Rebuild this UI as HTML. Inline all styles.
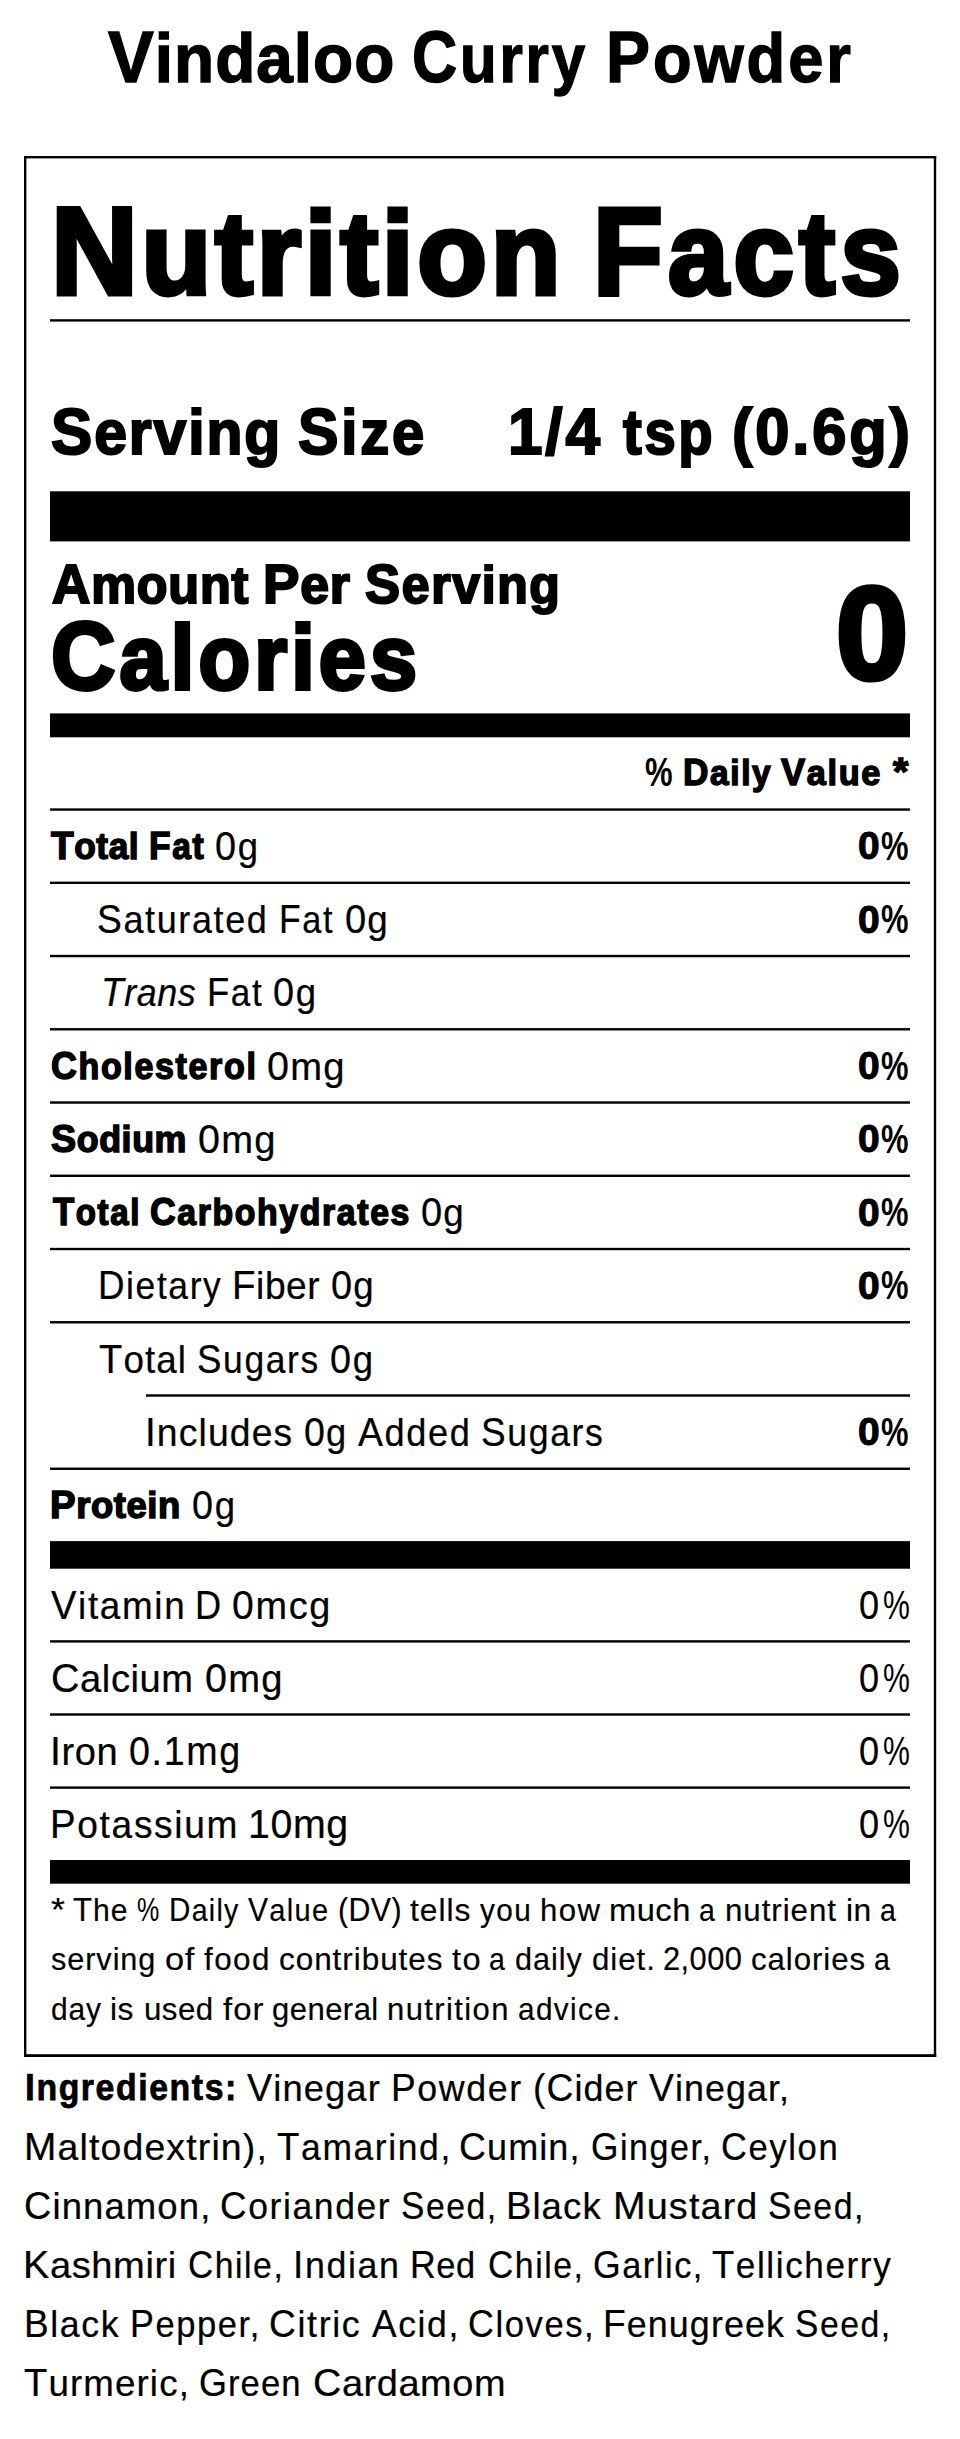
<!DOCTYPE html>
<html lang="en">
<head>
<meta charset="utf-8">
<title>Vindaloo Curry Powder - Nutrition Facts</title>
<style>
html,body{margin:0;padding:0;background:#fff}
body{width:960px;height:2439px;position:relative;overflow:hidden;color:#000;font-family:"Liberation Sans",sans-serif}
svg.rules{position:absolute;left:0;top:0;width:960px;height:2439px;display:block}
.t{position:absolute;white-space:nowrap;line-height:1;transform-origin:0 0;margin:0;padding:0;font-weight:400;font-style:normal;-webkit-text-stroke-color:#000}
.b,.k,.p{font-weight:700}
.i{font-style:italic}
h1,h2,p,.g{margin:0;padding:0;font:inherit}
.c1036::first-letter{font-size:103.6%}
.c1037::first-letter{font-size:103.7%}
.c1044::first-letter{font-size:104.4%}
.c1051::first-letter{font-size:105.1%}
.c1054::first-letter{font-size:105.4%}
.c1055::first-letter{font-size:105.5%}

</style>
</head>
<body>
<svg class="rules" viewBox="0 0 960 2439" width="960" height="2439" fill="#000">
<rect x="24" y="156" width="912.2" height="2.4"/>
<rect x="24" y="2054.2" width="912.2" height="2.8"/>
<rect x="24" y="156" width="2.4" height="1901"/>
<rect x="933.8" y="156" width="2.4" height="1901"/>
<rect x="50" y="319.2" width="860" height="2.4"/>
<rect x="50" y="491.3" width="860" height="50.1"/>
<rect x="50" y="713.4" width="860" height="23.9"/>
<rect x="50" y="808.35" width="860" height="2.4"/>
<rect x="50" y="881.6" width="860" height="2.4"/>
<rect x="50" y="954.84" width="860" height="2.4"/>
<rect x="50" y="1028.09" width="860" height="2.4"/>
<rect x="50" y="1101.33" width="860" height="2.4"/>
<rect x="50" y="1174.58" width="860" height="2.4"/>
<rect x="50" y="1247.82" width="860" height="2.4"/>
<rect x="50" y="1321.07" width="860" height="2.4"/>
<rect x="146" y="1394.31" width="764" height="2.4"/>
<rect x="50" y="1467.56" width="860" height="2.4"/>
<rect x="50" y="1541.1" width="860" height="27.6"/>
<rect x="50" y="1640.2" width="860" height="2.4"/>
<rect x="50" y="1713.3" width="860" height="2.4"/>
<rect x="50" y="1786.4" width="860" height="2.4"/>
<rect x="50" y="1860.0" width="860" height="23.7"/>
</svg>
<h1 class="g" id="title">
<span class="t b c1044" style="left:108.12px;top:20.88px;font-size:68.99px;transform:scaleX(0.9517);-webkit-text-stroke-width:1.43px;letter-spacing:1.08px">Vindaloo</span>
<span class="t b c1044" style="left:412.24px;top:20.88px;font-size:68.99px;transform:scaleX(0.8691);-webkit-text-stroke-width:1.43px;letter-spacing:3.23px">Curry</span>
<span class="t b c1044" style="left:605.85px;top:20.88px;font-size:68.99px;transform:scaleX(0.9158);-webkit-text-stroke-width:1.43px;letter-spacing:3.23px">Powder</span>
</h1>
<h2 class="g" id="nf">
<span class="t k c1054" style="left:50.88px;top:189.65px;font-size:117.49px;transform:scaleX(0.9714);-webkit-text-stroke-width:4.81px;letter-spacing:3.80px">Nutrition</span>
<span class="t k c1054" style="left:593.11px;top:189.65px;font-size:117.49px;transform:scaleX(0.9224);-webkit-text-stroke-width:4.81px;letter-spacing:5.70px">Facts</span>
</h2>
<div class="g" id="ss">
<span class="t k c1051" style="left:50.95px;top:399.32px;font-size:62.15px;transform:scaleX(0.9474);-webkit-text-stroke-width:2.14px;letter-spacing:1.99px">Serving</span>
<span class="t k c1051" style="left:297.71px;top:399.32px;font-size:62.15px;transform:scaleX(0.9311);-webkit-text-stroke-width:2.14px;letter-spacing:2.98px">Size</span>
<span class="t k" style="left:508.37px;top:398.65px;font-size:65.3px;transform:scaleX(0.9498);-webkit-text-stroke-width:2.14px;letter-spacing:2.98px">1/4</span>
<span class="t k" style="left:622.65px;top:402.32px;font-size:62.15px;transform:scaleX(0.9041);-webkit-text-stroke-width:2.14px;letter-spacing:2.98px">tsp</span>
<span class="t k" style="left:732.09px;top:400.45px;font-size:64.36px;transform:scaleX(0.9543);-webkit-text-stroke-width:2.14px;letter-spacing:2.98px">(0.6g)</span>
</div>
<div class="g" id="aps">
<span class="t k c1054" style="left:51.69px;top:557.10px;font-size:52.25px;transform:scaleX(0.9641);-webkit-text-stroke-width:2.14px;letter-spacing:0.84px">Amount</span>
<span class="t k c1054" style="left:262.61px;top:557.10px;font-size:52.25px;transform:scaleX(0.9905);-webkit-text-stroke-width:2.14px;letter-spacing:0.84px">Per</span>
<span class="t k c1054" style="left:364.58px;top:557.10px;font-size:52.25px;transform:scaleX(0.9564);-webkit-text-stroke-width:2.14px;letter-spacing:1.69px">Serving</span>
</div>
<div class="g" id="cal">
<span class="t k c1055" style="left:50.91px;top:607.67px;font-size:90.88px;transform:scaleX(0.9311);-webkit-text-stroke-width:3.92px;letter-spacing:4.42px">Calories</span>
</div>
<div class="g" id="calv">
<span class="t k" style="left:835.63px;top:567.48px;font-size:132.25px;transform:scaleX(0.9800);-webkit-text-stroke-width:5.14px">0</span>
</div>
<div class="g" id="dv">
<span class="t p" style="left:644.99px;top:751.95px;font-size:39.99px;transform:scaleX(0.7753)">%</span>
<span class="t k c1054" style="left:682.57px;top:754.30px;font-size:35.92px;transform:scaleX(0.9302);-webkit-text-stroke-width:1.47px;letter-spacing:1.74px">Daily</span>
<span class="t k c1054" style="left:781.22px;top:754.30px;font-size:35.92px;transform:scaleX(0.9559);-webkit-text-stroke-width:1.47px;letter-spacing:1.74px">Value</span>
<span class="t k" style="left:893.35px;top:753.62px;font-size:37.86px;transform:scaleX(1.0413);-webkit-text-stroke-width:1.47px">*</span>
</div>
<div class="g" id="row0">
<span class="t k c1054" style="left:51.09px;top:827.06px;font-size:36.38px;transform:scaleX(0.9686);-webkit-text-stroke-width:1.49px;letter-spacing:0.59px">Total</span>
<span class="t k c1054" style="left:149.16px;top:827.06px;font-size:36.38px;transform:scaleX(0.9214);-webkit-text-stroke-width:1.49px;letter-spacing:1.76px">Fat</span>
<span class="t r c1036" style="left:215.06px;top:826.88px;font-size:38.75px;transform:scaleX(0.9421);-webkit-text-stroke-width:0.24px;letter-spacing:1.76px">0g</span>
<span class="t k" style="left:858.00px;top:826.27px;font-size:39.0px;transform:scaleX(1.0000);-webkit-text-stroke-width:1.04px">0</span><span class="t p" style="left:881.32px;top:825.51px;font-size:40.51px;transform:scaleX(0.7640)">%</span>
</div>
<div class="g" id="row1">
<span class="t r c1036" style="left:97.25px;top:900.12px;font-size:38.75px;transform:scaleX(0.9278);-webkit-text-stroke-width:0.24px;letter-spacing:1.76px">Saturated</span>
<span class="t r c1036" style="left:278.63px;top:900.12px;font-size:38.75px;transform:scaleX(0.8861);-webkit-text-stroke-width:0.24px;letter-spacing:1.76px">Fat</span>
<span class="t r c1036" style="left:344.75px;top:900.12px;font-size:38.75px;transform:scaleX(0.9481);-webkit-text-stroke-width:0.24px;letter-spacing:1.18px">0g</span>
<span class="t k" style="left:858.00px;top:899.51px;font-size:39.0px;transform:scaleX(1.0000);-webkit-text-stroke-width:1.04px">0</span><span class="t p" style="left:881.32px;top:898.75px;font-size:40.51px;transform:scaleX(0.7640)">%</span>
</div>
<div class="g" id="row2">
<span class="t i c1036" style="left:100.89px;top:973.37px;font-size:38.75px;transform:scaleX(0.9259);-webkit-text-stroke-width:0.24px;letter-spacing:0.59px">Trans</span>
<span class="t r c1036" style="left:206.50px;top:973.37px;font-size:38.75px;transform:scaleX(0.9074);-webkit-text-stroke-width:0.24px;letter-spacing:1.76px">Fat</span>
<span class="t r c1036" style="left:273.06px;top:973.37px;font-size:38.75px;transform:scaleX(0.9421);-webkit-text-stroke-width:0.24px;letter-spacing:1.76px">0g</span>
</div>
<div class="g" id="row3">
<span class="t k c1054" style="left:50.78px;top:1046.53px;font-size:36.38px;transform:scaleX(0.9349);-webkit-text-stroke-width:1.49px;letter-spacing:1.76px">Cholesterol</span>
<span class="t r c1036" style="left:266.62px;top:1046.61px;font-size:38.75px;transform:scaleX(0.9855);-webkit-text-stroke-width:0.24px;letter-spacing:1.18px">0mg</span>
<span class="t k" style="left:858.00px;top:1046.00px;font-size:39.0px;transform:scaleX(1.0000);-webkit-text-stroke-width:1.04px">0</span><span class="t p" style="left:881.32px;top:1045.78px;font-size:40.51px;transform:scaleX(0.7640)">%</span>
</div>
<div class="g" id="row4">
<span class="t k c1054" style="left:51.00px;top:1120.02px;font-size:36.38px;transform:scaleX(0.9839);-webkit-text-stroke-width:1.49px;letter-spacing:0.59px">Sodium</span>
<span class="t r c1036" style="left:197.62px;top:1119.86px;font-size:38.75px;transform:scaleX(0.9855);-webkit-text-stroke-width:0.24px;letter-spacing:1.18px">0mg</span>
<span class="t k" style="left:858.00px;top:1119.25px;font-size:39.0px;transform:scaleX(1.0000);-webkit-text-stroke-width:1.04px">0</span><span class="t p" style="left:881.32px;top:1119.27px;font-size:40.51px;transform:scaleX(0.7640)">%</span>
</div>
<div class="g" id="row5">
<span class="t k c1054" style="left:52.64px;top:1192.92px;font-size:36.38px;transform:scaleX(0.9076);-webkit-text-stroke-width:1.49px;letter-spacing:1.76px">Total</span>
<span class="t k c1054" style="left:149.83px;top:1192.92px;font-size:36.38px;transform:scaleX(0.9287);-webkit-text-stroke-width:1.49px;letter-spacing:1.76px">Carbohydrates</span>
<span class="t r c1036" style="left:420.75px;top:1193.10px;font-size:38.75px;transform:scaleX(0.9481);-webkit-text-stroke-width:0.24px;letter-spacing:1.18px">0g</span>
<span class="t k" style="left:858.00px;top:1193.05px;font-size:39.0px;transform:scaleX(1.0000);-webkit-text-stroke-width:1.04px">0</span><span class="t p" style="left:881.32px;top:1191.73px;font-size:40.51px;transform:scaleX(0.7640)">%</span>
</div>
<div class="g" id="row6">
<span class="t r c1036" style="left:98.29px;top:1266.35px;font-size:38.75px;transform:scaleX(0.9140);-webkit-text-stroke-width:0.24px;letter-spacing:1.76px">Dietary</span>
<span class="t r c1036" style="left:232.13px;top:1266.35px;font-size:38.75px;transform:scaleX(0.9586);-webkit-text-stroke-width:0.24px;letter-spacing:0.59px">Fiber</span>
<span class="t r c1036" style="left:330.75px;top:1266.35px;font-size:38.75px;transform:scaleX(0.9452);-webkit-text-stroke-width:0.24px;letter-spacing:1.18px">0g</span>
<span class="t k" style="left:858.00px;top:1265.74px;font-size:39.0px;transform:scaleX(1.0000);-webkit-text-stroke-width:1.04px">0</span><span class="t p" style="left:881.32px;top:1264.98px;font-size:40.51px;transform:scaleX(0.7640)">%</span>
</div>
<div class="g" id="row7">
<span class="t r c1036" style="left:99.18px;top:1339.59px;font-size:38.75px;transform:scaleX(0.9487);-webkit-text-stroke-width:0.24px;letter-spacing:1.18px">Total</span>
<span class="t r c1036" style="left:196.93px;top:1339.59px;font-size:38.75px;transform:scaleX(0.9144);-webkit-text-stroke-width:0.24px;letter-spacing:1.76px">Sugars</span>
<span class="t r c1036" style="left:330.06px;top:1339.59px;font-size:38.75px;transform:scaleX(0.9421);-webkit-text-stroke-width:0.24px;letter-spacing:1.76px">0g</span>
</div>
<div class="g" id="row8">
<span class="t r c1036" style="left:145.25px;top:1412.84px;font-size:38.75px;transform:scaleX(0.9625);-webkit-text-stroke-width:0.24px;letter-spacing:1.18px">Includes</span>
<span class="t r c1036" style="left:303.67px;top:1412.84px;font-size:38.75px;transform:scaleX(0.9368);-webkit-text-stroke-width:0.24px;letter-spacing:1.18px">0g</span>
<span class="t r c1036" style="left:357.57px;top:1412.84px;font-size:38.75px;transform:scaleX(0.9327);-webkit-text-stroke-width:0.24px;letter-spacing:1.76px">Added</span>
<span class="t r c1036" style="left:480.51px;top:1412.84px;font-size:38.75px;transform:scaleX(0.9198);-webkit-text-stroke-width:0.24px;letter-spacing:1.76px">Sugars</span>
<span class="t k" style="left:858.00px;top:1412.23px;font-size:39.0px;transform:scaleX(1.0000);-webkit-text-stroke-width:1.04px">0</span><span class="t p" style="left:881.32px;top:1412.23px;font-size:40.51px;transform:scaleX(0.7640)">%</span>
</div>
<div class="g" id="row9">
<span class="t k c1054" style="left:50.09px;top:1486.47px;font-size:36.38px;transform:scaleX(1.0014);-webkit-text-stroke-width:1.49px;letter-spacing:0.59px">Protein</span>
<span class="t r c1036" style="left:192.06px;top:1486.08px;font-size:38.75px;transform:scaleX(0.9421);-webkit-text-stroke-width:0.24px;letter-spacing:1.76px">0g</span>
</div>
<div class="g" id="vit0">
<span class="t r c1036" style="left:51.42px;top:1586.08px;font-size:38.75px;transform:scaleX(0.9500);-webkit-text-stroke-width:0.24px;letter-spacing:1.76px">Vitamin</span>
<span class="t r" style="left:195.42px;top:1585.88px;font-size:40.16px;transform:scaleX(0.9000);-webkit-text-stroke-width:0.24px">D</span>
<span class="t r c1036" style="left:232.02px;top:1586.08px;font-size:38.75px;transform:scaleX(0.9762);-webkit-text-stroke-width:0.24px;letter-spacing:1.76px">0mcg</span>
<span class="t r" style="left:859.10px;top:1585.88px;font-size:40.16px;transform:scaleX(0.9000);-webkit-text-stroke-width:0.24px">0</span><span class="t r" style="left:882.64px;top:1584.71px;font-size:40.51px;transform:scaleX(0.7465)">%</span>
</div>
<div class="g" id="vit1">
<span class="t r c1036" style="left:50.83px;top:1659.11px;font-size:38.75px;transform:scaleX(0.9835);-webkit-text-stroke-width:0.24px;letter-spacing:0.59px">Calcium</span>
<span class="t r c1036" style="left:204.62px;top:1659.11px;font-size:38.75px;transform:scaleX(0.9855);-webkit-text-stroke-width:0.24px;letter-spacing:1.18px">0mg</span>
<span class="t r" style="left:859.10px;top:1658.94px;font-size:40.16px;transform:scaleX(0.9000);-webkit-text-stroke-width:0.24px">0</span><span class="t r" style="left:882.64px;top:1657.74px;font-size:40.51px;transform:scaleX(0.7465)">%</span>
</div>
<div class="g" id="vit2">
<span class="t r c1036" style="left:49.77px;top:1732.14px;font-size:38.75px;transform:scaleX(0.9805);-webkit-text-stroke-width:0.24px;letter-spacing:0.59px">Iron</span>
<span class="t r" style="left:129.05px;top:1732.36px;font-size:39.74px;transform:scaleX(0.9471);-webkit-text-stroke-width:0.24px;letter-spacing:1.76px">0.1mg</span>
<span class="t r" style="left:859.10px;top:1732.00px;font-size:40.16px;transform:scaleX(0.9000);-webkit-text-stroke-width:0.24px">0</span><span class="t r" style="left:882.64px;top:1730.77px;font-size:40.51px;transform:scaleX(0.7465)">%</span>
</div>
<div class="g" id="vit3">
<span class="t r c1036" style="left:49.98px;top:1805.17px;font-size:38.75px;transform:scaleX(0.9567);-webkit-text-stroke-width:0.24px;letter-spacing:1.76px">Potassium</span>
<span class="t r" style="left:247.64px;top:1805.42px;font-size:39.74px;transform:scaleX(0.9896);-webkit-text-stroke-width:0.24px;letter-spacing:0.59px">10mg</span>
<span class="t r" style="left:859.10px;top:1805.06px;font-size:40.16px;transform:scaleX(0.9000);-webkit-text-stroke-width:0.24px">0</span><span class="t r" style="left:882.64px;top:1803.80px;font-size:40.51px;transform:scaleX(0.7465)">%</span>
</div>
<p class="g" id="foot0">
<span class="t r" style="left:50.74px;top:1893.71px;font-size:32.79px;transform:scaleX(1.0918);-webkit-text-stroke-width:0.19px">*</span>
<span class="t r c1036" style="left:72.76px;top:1893.72px;font-size:31.64px;transform:scaleX(0.9520);-webkit-text-stroke-width:0.19px;letter-spacing:0.96px">The</span>
<span class="t r" style="left:136.85px;top:1892.61px;font-size:33.07px;transform:scaleX(0.7570)">%</span>
<span class="t r c1036" style="left:168.73px;top:1893.72px;font-size:31.64px;transform:scaleX(0.9019);-webkit-text-stroke-width:0.19px;letter-spacing:1.44px">Daily</span>
<span class="t r c1036" style="left:248.00px;top:1893.72px;font-size:31.64px;transform:scaleX(0.9174);-webkit-text-stroke-width:0.19px;letter-spacing:1.44px">Value</span>
<span class="t r" style="left:337.62px;top:1893.71px;font-size:32.79px;transform:scaleX(0.9236);-webkit-text-stroke-width:0.19px;letter-spacing:0.48px">(DV)</span>
<span class="t r" style="left:410.00px;top:1894.68px;font-size:31.64px;transform:scaleX(1.0060);-webkit-text-stroke-width:0.19px;letter-spacing:0.96px">tells</span>
<span class="t r" style="left:480.02px;top:1894.68px;font-size:31.64px;transform:scaleX(0.9413);-webkit-text-stroke-width:0.19px;letter-spacing:1.44px">you</span>
<span class="t r" style="left:539.64px;top:1894.68px;font-size:31.64px;transform:scaleX(0.9840);-webkit-text-stroke-width:0.19px;letter-spacing:1.44px">how</span>
<span class="t r" style="left:608.93px;top:1894.68px;font-size:31.64px;transform:scaleX(1.0329);-webkit-text-stroke-width:0.19px;letter-spacing:0.48px">much</span>
<span class="t r" style="left:698.67px;top:1894.68px;font-size:31.64px;transform:scaleX(0.9000);-webkit-text-stroke-width:0.19px">a</span>
<span class="t r" style="left:725.03px;top:1894.68px;font-size:31.64px;transform:scaleX(0.9888);-webkit-text-stroke-width:0.19px;letter-spacing:0.96px">nutrient</span>
<span class="t r" style="left:846.01px;top:1894.68px;font-size:31.64px;transform:scaleX(1.0050);-webkit-text-stroke-width:0.19px;letter-spacing:0.48px">in</span>
<span class="t r" style="left:879.67px;top:1894.68px;font-size:31.64px;transform:scaleX(0.9000);-webkit-text-stroke-width:0.19px">a</span>
</p>
<p class="g" id="foot1">
<span class="t r" style="left:51.43px;top:1944.04px;font-size:31.64px;transform:scaleX(0.9692);-webkit-text-stroke-width:0.19px;letter-spacing:0.96px">serving</span>
<span class="t r" style="left:164.91px;top:1944.04px;font-size:31.64px;transform:scaleX(1.0877);-webkit-text-stroke-width:0.19px;letter-spacing:0.48px">of</span>
<span class="t r" style="left:203.61px;top:1944.04px;font-size:31.64px;transform:scaleX(0.9918);-webkit-text-stroke-width:0.19px;letter-spacing:1.44px">food</span>
<span class="t r" style="left:278.63px;top:1944.04px;font-size:31.64px;transform:scaleX(0.9953);-webkit-text-stroke-width:0.19px;letter-spacing:0.96px">contributes</span>
<span class="t r" style="left:452.08px;top:1944.04px;font-size:31.64px;transform:scaleX(1.0283);-webkit-text-stroke-width:0.19px;letter-spacing:1.44px">to</span>
<span class="t r" style="left:488.67px;top:1944.04px;font-size:31.64px;transform:scaleX(0.9000);-webkit-text-stroke-width:0.19px">a</span>
<span class="t r" style="left:515.33px;top:1944.04px;font-size:31.64px;transform:scaleX(0.9692);-webkit-text-stroke-width:0.19px;letter-spacing:0.96px">daily</span>
<span class="t r" style="left:591.94px;top:1944.04px;font-size:31.64px;transform:scaleX(0.9880);-webkit-text-stroke-width:0.19px;letter-spacing:0.96px">diet.</span>
<span class="t r" style="left:662.56px;top:1943.07px;font-size:32.79px;transform:scaleX(0.9407);-webkit-text-stroke-width:0.19px;letter-spacing:0.48px">2,000</span>
<span class="t r" style="left:751.01px;top:1944.04px;font-size:31.64px;transform:scaleX(0.9860);-webkit-text-stroke-width:0.19px;letter-spacing:0.96px">calories</span>
<span class="t r" style="left:874.41px;top:1944.04px;font-size:31.64px;transform:scaleX(0.9000);-webkit-text-stroke-width:0.19px">a</span>
</p>
<p class="g" id="foot2">
<span class="t r" style="left:50.98px;top:1993.72px;font-size:31.64px;transform:scaleX(0.9466);-webkit-text-stroke-width:0.19px;letter-spacing:0.96px">day</span>
<span class="t r" style="left:110.18px;top:1993.72px;font-size:31.64px;transform:scaleX(1.0025);-webkit-text-stroke-width:0.19px;letter-spacing:0.48px">is</span>
<span class="t r" style="left:143.75px;top:1993.72px;font-size:31.64px;transform:scaleX(0.9872);-webkit-text-stroke-width:0.19px;letter-spacing:0.48px">used</span>
<span class="t r" style="left:223.00px;top:1993.72px;font-size:31.64px;transform:scaleX(1.0406);-webkit-text-stroke-width:0.19px;letter-spacing:0.96px">for</span>
<span class="t r" style="left:272.02px;top:1993.72px;font-size:31.64px;transform:scaleX(0.9803);-webkit-text-stroke-width:0.19px;letter-spacing:0.48px">general</span>
<span class="t r" style="left:387.08px;top:1993.72px;font-size:31.64px;transform:scaleX(0.9790);-webkit-text-stroke-width:0.19px;letter-spacing:1.44px">nutrition</span>
<span class="t r" style="left:517.98px;top:1993.72px;font-size:31.64px;transform:scaleX(0.9397);-webkit-text-stroke-width:0.19px;letter-spacing:1.44px">advice.</span>
</p>
<p class="g" id="ing0">
<span class="t b c1044" style="left:25.13px;top:2069.11px;font-size:36.18px;transform:scaleX(0.9350);-webkit-text-stroke-width:0.75px;letter-spacing:1.69px">Ingredients:</span>
<span class="t r c1037" style="left:247.00px;top:2069.23px;font-size:37.16px;transform:scaleX(0.9781);-webkit-text-stroke-width:0.23px;letter-spacing:1.13px">Vinegar</span>
<span class="t r c1037" style="left:391.25px;top:2069.23px;font-size:37.16px;transform:scaleX(0.9621);-webkit-text-stroke-width:0.23px;letter-spacing:1.69px">Powder</span>
<span class="t r c1037" style="left:533.07px;top:2069.23px;font-size:37.16px;transform:scaleX(0.9654);-webkit-text-stroke-width:0.23px;letter-spacing:1.13px">(Cider</span>
<span class="t r c1037" style="left:649.00px;top:2069.23px;font-size:37.16px;transform:scaleX(0.9646);-webkit-text-stroke-width:0.23px;letter-spacing:1.13px">Vinegar,</span>
</p>
<p class="g" id="ing1">
<span class="t r c1037" style="left:23.98px;top:2128.13px;font-size:37.16px;transform:scaleX(1.0080);-webkit-text-stroke-width:0.23px;letter-spacing:1.13px">Maltodextrin),</span>
<span class="t r c1037" style="left:276.79px;top:2128.13px;font-size:37.16px;transform:scaleX(0.9542);-webkit-text-stroke-width:0.23px;letter-spacing:1.69px">Tamarind,</span>
<span class="t r c1037" style="left:459.14px;top:2128.13px;font-size:37.16px;transform:scaleX(0.9686);-webkit-text-stroke-width:0.23px;letter-spacing:1.13px">Cumin,</span>
<span class="t r c1037" style="left:590.79px;top:2128.13px;font-size:37.16px;transform:scaleX(0.9157);-webkit-text-stroke-width:0.23px;letter-spacing:1.69px">Ginger,</span>
<span class="t r c1037" style="left:720.60px;top:2128.13px;font-size:37.16px;transform:scaleX(0.9326);-webkit-text-stroke-width:0.23px;letter-spacing:1.69px">Ceylon</span>
</p>
<p class="g" id="ing2">
<span class="t r c1037" style="left:23.94px;top:2187.13px;font-size:37.16px;transform:scaleX(0.9818);-webkit-text-stroke-width:0.23px;letter-spacing:1.13px">Cinnamon,</span>
<span class="t r c1037" style="left:220.13px;top:2187.13px;font-size:37.16px;transform:scaleX(0.9550);-webkit-text-stroke-width:0.23px;letter-spacing:1.69px">Coriander</span>
<span class="t r c1037" style="left:401.23px;top:2187.13px;font-size:37.16px;transform:scaleX(0.9090);-webkit-text-stroke-width:0.23px;letter-spacing:1.69px">Seed,</span>
<span class="t r c1037" style="left:506.35px;top:2187.13px;font-size:37.16px;transform:scaleX(0.9836);-webkit-text-stroke-width:0.23px;letter-spacing:1.13px">Black</span>
<span class="t r c1037" style="left:612.95px;top:2187.13px;font-size:37.16px;transform:scaleX(1.0155);-webkit-text-stroke-width:0.23px;letter-spacing:1.13px">Mustard</span>
<span class="t r c1037" style="left:768.23px;top:2187.13px;font-size:37.16px;transform:scaleX(0.9106);-webkit-text-stroke-width:0.23px;letter-spacing:1.69px">Seed,</span>
</p>
<p class="g" id="ing3">
<span class="t r c1037" style="left:23.21px;top:2246.13px;font-size:37.16px;transform:scaleX(1.0255);-webkit-text-stroke-width:0.23px;letter-spacing:0.56px">Kashmiri</span>
<span class="t r c1037" style="left:188.38px;top:2246.13px;font-size:37.16px;transform:scaleX(0.9073);-webkit-text-stroke-width:0.23px;letter-spacing:1.69px">Chile,</span>
<span class="t r c1037" style="left:292.92px;top:2246.13px;font-size:37.16px;transform:scaleX(0.9631);-webkit-text-stroke-width:0.23px;letter-spacing:1.69px">Indian</span>
<span class="t r c1037" style="left:410.34px;top:2246.13px;font-size:37.16px;transform:scaleX(0.9253);-webkit-text-stroke-width:0.23px;letter-spacing:0.56px">Red</span>
<span class="t r c1037" style="left:487.74px;top:2246.13px;font-size:37.16px;transform:scaleX(0.9090);-webkit-text-stroke-width:0.23px;letter-spacing:1.69px">Chile,</span>
<span class="t r c1037" style="left:592.62px;top:2246.13px;font-size:37.16px;transform:scaleX(0.9226);-webkit-text-stroke-width:0.23px;letter-spacing:1.69px">Garlic,</span>
<span class="t r c1037" style="left:711.78px;top:2246.13px;font-size:37.16px;transform:scaleX(0.9451);-webkit-text-stroke-width:0.23px;letter-spacing:1.69px">Tellicherry</span>
</p>
<p class="g" id="ing4">
<span class="t r c1037" style="left:23.56px;top:2305.23px;font-size:37.16px;transform:scaleX(0.9602);-webkit-text-stroke-width:0.23px;letter-spacing:1.69px">Black</span>
<span class="t r c1037" style="left:129.94px;top:2305.23px;font-size:37.16px;transform:scaleX(0.9292);-webkit-text-stroke-width:0.23px;letter-spacing:1.69px">Pepper,</span>
<span class="t r c1037" style="left:268.91px;top:2305.23px;font-size:37.16px;transform:scaleX(0.9650);-webkit-text-stroke-width:0.23px;letter-spacing:1.69px">Citric</span>
<span class="t r c1037" style="left:372.04px;top:2305.23px;font-size:37.16px;transform:scaleX(0.9558);-webkit-text-stroke-width:0.23px;letter-spacing:1.69px">Acid,</span>
<span class="t r c1037" style="left:468.08px;top:2305.23px;font-size:37.16px;transform:scaleX(0.9306);-webkit-text-stroke-width:0.23px;letter-spacing:1.69px">Cloves,</span>
<span class="t r c1037" style="left:603.24px;top:2305.23px;font-size:37.16px;transform:scaleX(0.9645);-webkit-text-stroke-width:0.23px;letter-spacing:1.13px">Fenugreek</span>
<span class="t r c1037" style="left:795.23px;top:2305.23px;font-size:37.16px;transform:scaleX(0.9090);-webkit-text-stroke-width:0.23px;letter-spacing:1.69px">Seed,</span>
</p>
<p class="g" id="ing5">
<span class="t r c1037" style="left:24.27px;top:2364.13px;font-size:37.16px;transform:scaleX(0.9884);-webkit-text-stroke-width:0.23px;letter-spacing:1.13px">Turmeric,</span>
<span class="t r c1037" style="left:199.11px;top:2364.13px;font-size:37.16px;transform:scaleX(0.9323);-webkit-text-stroke-width:0.23px;letter-spacing:1.13px">Green</span>
<span class="t r c1037" style="left:312.52px;top:2364.13px;font-size:37.16px;transform:scaleX(1.0201);-webkit-text-stroke-width:0.23px;letter-spacing:0.56px">Cardamom</span>
</p>
</body>
</html>
